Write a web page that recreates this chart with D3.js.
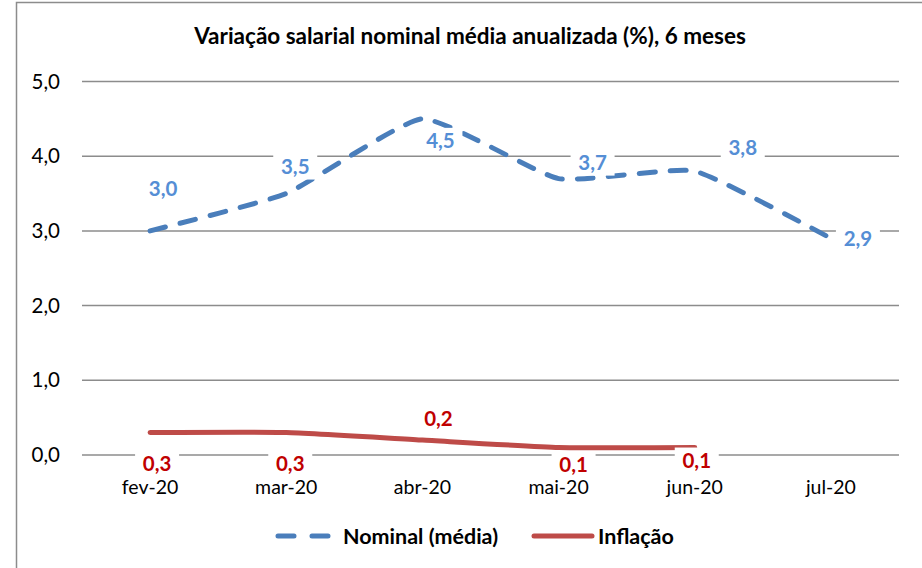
<!DOCTYPE html>
<html>
<head>
<meta charset="utf-8">
<script src="https://cdn.jsdelivr.net/npm/d3@7"></script>
<style>
  body { margin: 0; background: #fff; }
  text { font-family: "Lato", sans-serif; }
</style>
</head>
<body>
<svg id="chart" width="922" height="568"></svg>
<script>
var months = ["fev-20", "mar-20", "abr-20", "mai-20", "jun-20", "jul-20"];
var nominal = [3.0, 3.5, 4.5, 3.7, 3.8, 2.9];
var inflacao = [0.3, 0.3, 0.2, 0.1, 0.1];
var yTicks = [0, 1, 2, 3, 4, 5];
var title = "Variação salarial nominal média anualizada (%), 6 meses";
var seriesNames = ["Nominal (média)", "Inflação"];

// label offsets relative to each point (px)
var nomOffsets = [[13, -42], [9, -27], [18, 22], [34, -16], [48, -24], [27, 0]];
var infOffsets = [[7, 31], [4, 31], [16, -21], [15, 17], [2, 13]];

var svg = d3.select("#chart");
var pLeft = 82, pRight = 899, pTop = 81.5, pBottom = 455;
var fmt = function(v) { return d3.format(".1f")(v).replace(".", ","); };

svg.append("rect")
  .attr("x", 16.5).attr("y", 2.5)
  .attr("width", 920).attr("height", 600)
  .attr("fill", "#fff").attr("stroke", "#8c8c8c").attr("stroke-width", 1.5);

var x = d3.scaleBand().domain(months).range([pLeft, pRight]);
var y = d3.scaleLinear().domain([0, 5]).range([pBottom, pTop]);
var cx = function(i) { return x(months[i]) + x.bandwidth() / 2; };

svg.append("text")
  .attr("x", 470).attr("y", 44)
  .attr("text-anchor", "middle")
  .attr("font-size", 22.5).attr("font-weight", "bold")
  .text(title);

// gridlines
svg.append("g").selectAll("line")
  .data(yTicks).enter().append("line")
  .attr("x1", pLeft).attr("x2", pRight)
  .attr("y1", function(d) { return y(d); })
  .attr("y2", function(d) { return y(d); })
  .attr("stroke", "#8c8c8c").attr("stroke-width", 1.5);

// y axis labels
var yAxis = d3.axisLeft(y).tickValues(yTicks).tickFormat(fmt).tickSize(0).tickPadding(22);
var ya = svg.append("g").attr("transform", "translate(" + pLeft + ",0)").call(yAxis);
ya.select(".domain").remove();
ya.selectAll("text").attr("font-size", 20.5).attr("fill", "#000")
  .style("font-family", "Lato, sans-serif");

// x axis labels
var xAxis = d3.axisBottom(x).tickSize(0).tickPadding(25);
var xa = svg.append("g").attr("transform", "translate(0," + pBottom + ")").call(xAxis);
xa.select(".domain").remove();
xa.selectAll("text").attr("font-size", 19.5).attr("fill", "#000")
  .style("font-family", "Lato, sans-serif");

var nomLine = d3.line()
  .x(function(d, i) { return cx(i); })
  .y(function(d) { return y(d); })
  .curve(d3.curveCardinal.tension(0.55));

svg.append("path")
  .datum(nominal)
  .attr("d", nomLine)
  .attr("fill", "none")
  .attr("stroke", "#4a7ebb").attr("stroke-width", 5)
  .attr("stroke-dasharray", "16,15")
  .attr("stroke-linecap", "round");

svg.append("path")
  .datum(inflacao)
  .attr("d", nomLine)
  .attr("fill", "none")
  .attr("stroke", "#be4b48").attr("stroke-width", 5)
  .attr("stroke-linecap", "round");

function addLabels(data, offsets, color) {
  var g = svg.append("g").selectAll("g")
    .data(data).enter().append("g")
    .attr("transform", function(d, i) {
      return "translate(" + (cx(i) + offsets[i][0]) + "," + (y(d) + offsets[i][1]) + ")";
    });
  g.append("rect")
    .attr("x", -22).attr("y", -13).attr("width", 44).attr("height", 26)
    .attr("fill", "#fff");
  g.append("text")
    .attr("text-anchor", "middle").attr("dy", "0.36em")
    .attr("font-size", 20.5).attr("font-weight", "bold")
    .attr("fill", color)
    .text(function(d) { return fmt(d); });
}
addLabels(nominal, nomOffsets, "#558ed5");
addLabels(inflacao, infOffsets, "#c00000");

// legend
var ly = 536;
svg.append("line")
  .attr("x1", 278).attr("x2", 330).attr("y1", ly).attr("y2", ly)
  .attr("stroke", "#4a7ebb").attr("stroke-width", 5)
  .attr("stroke-dasharray", "16,18").attr("stroke-linecap", "round");
svg.append("text").attr("x", 343).attr("y", ly).attr("dy", "0.36em")
  .attr("font-size", 21.5).attr("font-weight", "bold").text(seriesNames[0]);
svg.append("line")
  .attr("x1", 534).attr("x2", 592).attr("y1", ly).attr("y2", ly)
  .attr("stroke", "#be4b48").attr("stroke-width", 5).attr("stroke-linecap", "round");
svg.append("text").attr("x", 598).attr("y", ly).attr("dy", "0.36em")
  .attr("font-size", 21.5).attr("font-weight", "bold").text(seriesNames[1]);
</script>
</body>
</html>
